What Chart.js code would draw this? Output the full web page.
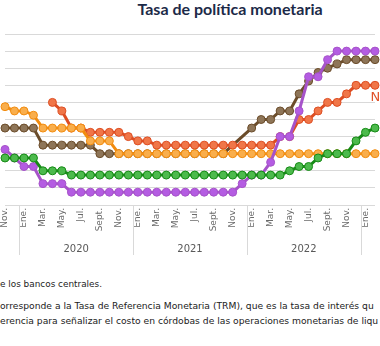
<!DOCTYPE html>
<html>
<head>
<meta charset="utf-8">
<script src="https://cdn.jsdelivr.net/npm/chart.js@4.4.0/dist/chart.umd.min.js"></script>
<style>
  html, body { margin: 0; padding: 0; background: #fff; width: 380px; height: 346px; overflow: hidden; }
  #wrap { position: absolute; left: 0; top: 0; width: 380px; height: 262px; }
  #title { position: absolute; top: -1px; left: 230px; transform: translateX(-50%); white-space: nowrap;
           font: bold 16px Lato, sans-serif; color: #1c2a48; }
  .note { position: absolute; left: 0; white-space: nowrap; font: 9.2px "DejaVu Sans", sans-serif; color: #222; line-height: 11px; }
</style>
</head>
<body>
<div id="title">Tasa de política monetaria</div>
<div id="wrap"><canvas id="chart" width="380" height="262"></canvas></div>
<div class="note" style="top:279px; font-size:8.9px">e los bancos centrales.</div>
<div class="note" style="top:300px">orresponde a la Tasa de Referencia Monetaria (TRM), que es la tasa de interés qu</div>
<div class="note" style="top:315px">erencia para señalizar el costo en córdobas de las operaciones monetarias de liqu</div>

<script>
// Months from Nov 2019 to Feb 2023
const months = [
  'Nov.', 'Dic.',
  'Ene.', 'Feb.', 'Mar.', 'Abr.', 'May.', 'Jun.', 'Jul.', 'Ago.', 'Sept.', 'Oct.', 'Nov.', 'Dic.',
  'Ene.', 'Feb.', 'Mar.', 'Abr.', 'May.', 'Jun.', 'Jul.', 'Ago.', 'Sept.', 'Oct.', 'Nov.', 'Dic.',
  'Ene.', 'Feb.', 'Mar.', 'Abr.', 'May.', 'Jun.', 'Jul.', 'Ago.', 'Sept.', 'Oct.', 'Nov.', 'Dic.',
  'Ene.', 'Feb.'
];
const years = [
  2019, 2019,
  2020, 2020, 2020, 2020, 2020, 2020, 2020, 2020, 2020, 2020, 2020, 2020,
  2021, 2021, 2021, 2021, 2021, 2021, 2021, 2021, 2021, 2021, 2021, 2021,
  2022, 2022, 2022, 2022, 2022, 2022, 2022, 2022, 2022, 2022, 2022, 2022,
  2023, 2023
];
// only every other month gets a tick label
const shownMonths = ['Ene.', 'Mar.', 'May.', 'Jul.', 'Sept.', 'Nov.'];

// Policy rates (%)
const orangeRates = [
  5.75, 5.5,
  5.5, 5.25, 4.5, 4.5, 4.5, 4.5, 4.5, 3.75, 3.75, 3.75, 3.0, 3.0,
  3.0, 3.0, 3.0, 3.0, 3.0, 3.0, 3.0, 3.0, 3.0, 3.0, 3.0, 3.0,
  3.0, 3.0, 3.0, 3.0, 3.0, 3.0, 3.0, 3.0, 3.0, 3.0, 3.0, 3.0,
  3.0, 3.0
];
const brownRates = [
  4.5, 4.5,
  4.5, 4.5, 3.5, 3.5, 3.5, 3.5, 3.5, 3.5, 3.0, 3.0, 3.0, 3.0,
  3.0, 3.0, 3.0, 3.0, 3.0, 3.0, 3.0, 3.0, 3.0, 3.0, null, null,
  4.5, 5.0, 5.0, 5.5, 5.5, 6.5, 7.25, 7.75, 8.0, 8.25, 8.5, 8.5,
  8.5, 8.5
];
const redRates = [
  null, null,
  null, null, null, 6.0, 5.5, 4.5, 4.5, 4.25, 4.25, 4.25, 4.25, 4.0,
  3.75, 3.75, 3.5, 3.5, 3.5, 3.5, 3.5, 3.5, 3.5, 3.5, 3.5, 3.5,
  3.5, 3.5, 3.5, 4.0, 4.0, 5.0, 5.0, 5.5, 6.0, 6.0, 6.5, 7.0,
  7.0, 7.0
];
const greenRates = [
  2.75, 2.75,
  2.75, 2.75, 2.0, 2.0, 2.0, 1.75, 1.75, 1.75, 1.75, 1.75, 1.75, 1.75,
  1.75, 1.75, 1.75, 1.75, 1.75, 1.75, 1.75, 1.75, 1.75, 1.75, 1.75, 1.75,
  1.75, 1.75, 1.75, 1.75, 2.0, 2.25, 2.25, 2.75, 3.0, 3.0, 3.0, 3.75,
  4.25, 4.5
];
const purpleRates = [
  3.25, 2.75,
  2.25, 2.25, 1.25, 1.25, 1.25, 0.75, 0.75, 0.75, 0.75, 0.75, 0.75, 0.75,
  0.75, 0.75, 0.75, 0.75, 0.75, 0.75, 0.75, 0.75, 0.75, 0.75, 0.75, 1.25,
  1.75, 1.75, 2.5, 4.0, 4.0, 5.5, 7.5, 7.5, 8.5, 9.0, 9.0, 9.0,
  9.0, 9.0
];

function series(data, line, fill) {
  return {
    data: data,
    borderColor: line,
    borderWidth: 3,
    pointRadius: 4,
    pointBorderWidth: 1,
    pointBackgroundColor: fill,
    pointBorderColor: line,
    tension: 0,
    spanGaps: true
  };
}

// Year separators and year labels under the month ticks
const yearPlugin = {
  id: 'years',
  afterDraw(chart) {
    const ctx = chart.ctx;
    const x = chart.scales.x;
    const y0 = chart.scales.y.getPixelForValue(0);
    const step = x.getPixelForValue(1) - x.getPixelForValue(0);
    ctx.save();
    ctx.strokeStyle = '#d9d9d9';
    ctx.lineWidth = 1;
    for (let i = 1; i < years.length; i++) {
      if (years[i] !== years[i - 1]) {
        const px = Math.round(x.getPixelForValue(i) - step / 2) + 0.5;
        ctx.beginPath();
        ctx.moveTo(px, y0);
        ctx.lineTo(px, y0 + 50);
        ctx.stroke();
      }
    }
    ctx.fillStyle = '#595959';
    ctx.font = '10px "DejaVu Sans"';
    ctx.textAlign = 'center';
    ctx.textBaseline = 'middle';
    let start = 0;
    for (let i = 1; i <= years.length; i++) {
      if (i === years.length || years[i] !== years[start]) {
        if (i - start === 12) {
          const mid = (x.getPixelForValue(start) + x.getPixelForValue(i - 1)) / 2;
          ctx.fillText(String(years[start]), mid, y0 + 44);
        }
        start = i;
      }
    }
    // series name next to the Nicaragua line
    const meta = chart.getDatasetMeta(3);
    const pt = meta.data[38];
    ctx.fillStyle = '#e0522a';
    ctx.font = '13px "DejaVu Sans"';
    ctx.textAlign = 'left';
    ctx.fillText('Nicaragua', pt.x + 5, pt.y + 12);
    ctx.restore();
  }
};

const ctx = document.getElementById('chart').getContext('2d');
new Chart(ctx, {
  type: 'line',
  data: {
    labels: months,
    // first dataset is drawn on top
    datasets: [
      series(greenRates, '#168a16', '#4cba4c'),
      series(purpleRates, '#a653c9', '#b45ce2'),
      series(orangeRates, '#f28c0f', '#f9ae4c'),
      series(redRates, '#dd4d22', '#f07648'),
      series(brownRates, '#6b4c2a', '#8e7558')
    ]
  },
  options: {
    responsive: false,
    animation: false,
    devicePixelRatio: 1,
    layout: { padding: { top: 34, left: 0, right: 0, bottom: 0 } },
    plugins: {
      legend: { display: false },
      tooltip: { enabled: false }
    },
    scales: {
      x: {
        grid: { display: false, drawTicks: false },
        border: { display: false },
        ticks: {
          autoSkip: false,
          minRotation: 90,
          maxRotation: 90,
          padding: 3,
          color: '#6b6b6b',
          font: { family: 'DejaVu Sans', size: 9 },
          callback: function(value, index) {
            return shownMonths.includes(months[index]) ? months[index] : '';
          }
        },
        afterFit: function(scale) {
          scale.paddingLeft = 0;
          scale.paddingRight = 0;
          scale.height = 57;
        }
      },
      y: {
        min: 0,
        max: 10,
        ticks: { display: false, stepSize: 1 },
        grid: { color: '#d9d9d9', lineWidth: 1, drawTicks: false },
        border: { display: false },
        afterFit: function(scale) {
          scale.width = 0;
          scale.paddingTop = 0;
          scale.paddingBottom = 0;
        }
      }
    }
  },
  plugins: [yearPlugin]
});
</script>
</body>
</html>
